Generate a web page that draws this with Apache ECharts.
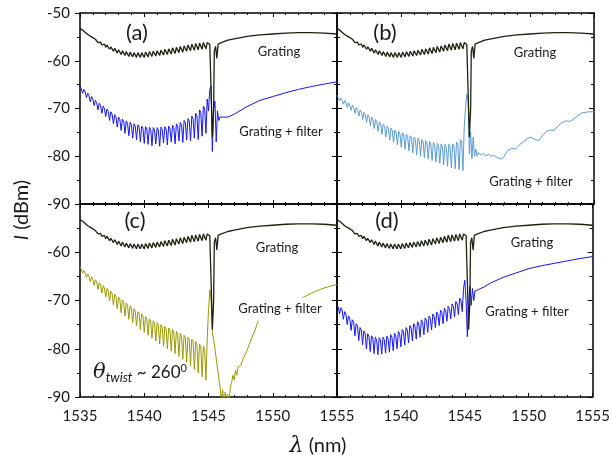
<!DOCTYPE html>
<html>
<head>
<meta charset="utf-8">
<script src="https://cdn.jsdelivr.net/npm/echarts@6/dist/echarts.min.js"></script>
<style>
  html, body { margin: 0; padding: 0; background: #fff; }
  #chart { width: 613px; height: 468px; }
</style>
</head>
<body>
<div id="chart"></div>
<script>
// x axis: wavelength (nm), y axis: intensity (dBm)
const xTicks = [1535, 1540, 1545, 1550, 1555]
const yTicks = [-90, -80, -70, -60, -50]
const panelNames = ['(a)', '(b)', '(c)', '(d)']

// grating spectrum, same in all four panels [nm, dBm]
const grating = [
  [1535.0, -53.2], [1535.3, -53.8], [1535.6, -54.5], [1535.9, -55.0],
  [1536.2, -55.5], [1536.3, -55.7], [1536.4, -56.2],
  [1536.5, -55.9], [1536.6, -56.1], [1536.7, -56.7],
  [1536.8, -56.3], [1536.9, -56.5], [1537.0, -57.2],
  [1537.1, -56.7], [1537.2, -56.9], [1537.3, -57.6],
  [1537.4, -57.1], [1537.5, -57.3], [1537.6, -58.0],
  [1537.7, -57.4], [1537.8, -57.6], [1537.9, -58.4],
  [1538.0, -57.7], [1538.1, -57.9], [1538.2, -58.7],
  [1538.3, -57.9], [1538.4, -58.1], [1538.5, -58.9],
  [1538.6, -58.1], [1538.7, -58.3], [1538.8, -59.1],
  [1538.9, -58.2], [1539.0, -58.4], [1539.1, -59.2],
  [1539.2, -58.3], [1539.3, -58.5], [1539.4, -59.3],
  [1539.5, -58.3], [1539.6, -58.5], [1539.7, -59.3],
  [1539.8, -58.3], [1539.9, -58.5], [1540.0, -59.3],
  [1540.1, -58.2], [1540.2, -58.4], [1540.3, -59.2],
  [1540.4, -58.1], [1540.5, -58.3], [1540.6, -59.1],
  [1540.7, -58.0], [1540.8, -58.2], [1540.9, -59.0],
  [1541.0, -57.9], [1541.1, -58.1], [1541.2, -58.9],
  [1541.3, -57.8], [1541.4, -58.0], [1541.5, -58.8],
  [1541.6, -57.6], [1541.7, -57.8], [1541.8, -58.7],
  [1541.9, -57.5], [1542.0, -57.7], [1542.1, -58.6],
  [1542.2, -57.3], [1542.3, -57.5], [1542.4, -58.5],
  [1542.5, -57.2], [1542.6, -57.4], [1542.7, -58.3],
  [1542.8, -57.0], [1542.9, -57.2], [1543.0, -58.2],
  [1543.1, -56.9], [1543.2, -57.1], [1543.3, -58.0],
  [1543.4, -56.7], [1543.5, -56.9], [1543.6, -57.9],
  [1543.7, -56.5], [1543.8, -56.7], [1543.9, -57.8],
  [1544.0, -56.4], [1544.1, -56.6], [1544.2, -57.7],
  [1544.3, -56.3], [1544.4, -56.5], [1544.5, -57.6],
  [1544.6, -56.2], [1544.7, -56.4], [1544.8, -57.5],
  [1544.9, -56.2], [1545.0, -56.3], [1545.1, -56.6], [1545.2, -66.0], [1545.3, -76.0],
  [1545.4, -70.0], [1545.45, -58.0], [1545.55, -57.0], [1545.65, -59.5], [1545.75, -56.5],
  [1546.0, -56.2], [1546.5, -55.7], [1547.0, -55.4], [1548.0, -54.9], [1549.0, -54.6],
  [1550.0, -54.4], [1551.0, -54.2], [1552.0, -54.1], [1553.0, -54.1], [1554.0, -54.2],
  [1555.0, -54.4]
]

// (a) grating + filter
const filterA = [
  [1535.0, -65.3], [1535.1, -65.8], [1535.2, -66.8],
  [1535.3, -66.0], [1535.4, -66.5], [1535.5, -67.7],
  [1535.6, -66.8], [1535.7, -67.3], [1535.8, -68.6],
  [1535.9, -67.5], [1536.0, -68.0], [1536.1, -69.4],
  [1536.2, -68.3], [1536.3, -68.8], [1536.4, -70.3],
  [1536.5, -68.9], [1536.6, -69.4], [1536.7, -71.0],
  [1536.8, -69.5], [1536.9, -70.0], [1537.0, -71.7],
  [1537.1, -70.1], [1537.2, -70.6], [1537.3, -72.5],
  [1537.4, -70.7], [1537.5, -71.2], [1537.6, -73.2],
  [1537.7, -71.3], [1537.8, -71.8], [1537.9, -73.9],
  [1538.0, -71.8], [1538.1, -72.3], [1538.2, -74.6],
  [1538.3, -72.2], [1538.4, -72.7], [1538.5, -75.2],
  [1538.6, -72.6], [1538.7, -73.1], [1538.8, -75.7],
  [1538.9, -72.9], [1539.0, -73.4], [1539.1, -76.2],
  [1539.2, -73.2], [1539.3, -73.7], [1539.4, -76.6],
  [1539.5, -73.4], [1539.6, -73.9], [1539.7, -77.0],
  [1539.8, -73.7], [1539.9, -74.2], [1540.0, -77.3],
  [1540.1, -73.8], [1540.2, -74.3], [1540.3, -77.5],
  [1540.4, -73.9], [1540.5, -74.4], [1540.6, -77.8],
  [1540.7, -74.0], [1540.8, -74.5], [1540.9, -77.4],
  [1541.0, -74.0], [1541.1, -74.5], [1541.2, -77.9],
  [1541.3, -73.9], [1541.4, -74.4], [1541.5, -77.2],
  [1541.6, -73.8], [1541.7, -74.3], [1541.8, -77.6],
  [1541.9, -73.7], [1542.0, -74.2], [1542.1, -77.0],
  [1542.2, -73.5], [1542.3, -74.0], [1542.4, -77.4],
  [1542.5, -73.2], [1542.6, -73.7], [1542.7, -76.8],
  [1542.8, -72.9], [1542.9, -73.4], [1543.0, -77.1],
  [1543.1, -72.5], [1543.2, -73.0], [1543.3, -76.6],
  [1543.4, -72.1], [1543.5, -72.6], [1543.6, -76.8],
  [1543.7, -71.6], [1543.8, -72.1], [1543.9, -76.2],
  [1544.0, -71.0], [1544.1, -71.5], [1544.2, -76.5],
  [1544.3, -70.3], [1544.4, -70.8], [1544.5, -75.8],
  [1544.6, -69.5], [1544.7, -70.0], [1544.8, -75.2],
  [1544.9, -68.0], [1545.0, -70.5], [1545.1, -66.0], [1545.2, -65.3],
  [1545.3, -79.0], [1545.4, -70.0], [1545.5, -68.5], [1545.6, -77.0], [1545.7, -70.5],
  [1545.8, -72.5], [1545.9, -71.8], [1546.0, -72.2], [1546.5, -71.8], [1547.0, -71.2],
  [1548.0, -69.6], [1549.0, -68.3], [1550.0, -67.5], [1551.0, -66.7], [1552.0, -66.0],
  [1553.0, -65.4], [1554.0, -64.9], [1555.0, -64.4]
]

// (b) grating + filter
const filterB = [
  [1535.0, -67.2], [1535.1, -67.7], [1535.2, -68.4],
  [1535.3, -67.8], [1535.4, -68.3], [1535.5, -69.1],
  [1535.6, -68.3], [1535.7, -68.8], [1535.8, -69.8],
  [1535.9, -68.8], [1536.0, -69.3], [1536.1, -70.4],
  [1536.2, -69.3], [1536.3, -69.8], [1536.4, -71.0],
  [1536.5, -69.8], [1536.6, -70.3], [1536.7, -71.6],
  [1536.8, -70.3], [1536.9, -70.8], [1537.0, -72.3],
  [1537.1, -70.8], [1537.2, -71.3], [1537.3, -72.9],
  [1537.4, -71.3], [1537.5, -71.8], [1537.6, -73.6],
  [1537.7, -71.8], [1537.8, -72.3], [1537.9, -74.2],
  [1538.0, -72.3], [1538.1, -72.8], [1538.2, -74.8],
  [1538.3, -72.8], [1538.4, -73.3], [1538.5, -75.4],
  [1538.6, -73.3], [1538.7, -73.8], [1538.8, -76.0],
  [1538.9, -73.7], [1539.0, -74.2], [1539.1, -76.6],
  [1539.2, -74.1], [1539.3, -74.6], [1539.4, -77.1],
  [1539.5, -74.5], [1539.6, -75.0], [1539.7, -77.6],
  [1539.8, -74.8], [1539.9, -75.3], [1540.0, -78.1],
  [1540.1, -75.1], [1540.2, -75.6], [1540.3, -78.5],
  [1540.4, -75.4], [1540.5, -75.9], [1540.6, -78.9],
  [1540.7, -75.7], [1540.8, -76.2], [1540.9, -79.3],
  [1541.0, -76.0], [1541.1, -76.5], [1541.2, -79.7],
  [1541.3, -76.2], [1541.4, -76.7], [1541.5, -80.0],
  [1541.6, -76.5], [1541.7, -77.0], [1541.8, -80.3],
  [1541.9, -76.7], [1542.0, -77.2], [1542.1, -80.6],
  [1542.2, -76.9], [1542.3, -77.4], [1542.4, -80.9],
  [1542.5, -77.1], [1542.6, -77.6], [1542.7, -81.2],
  [1542.8, -77.3], [1542.9, -77.8], [1543.0, -81.5],
  [1543.1, -77.4], [1543.2, -77.9], [1543.3, -81.8],
  [1543.4, -77.5], [1543.5, -78.0], [1543.6, -82.1],
  [1543.7, -77.5], [1543.8, -78.0], [1543.9, -82.4],
  [1544.0, -77.4], [1544.1, -77.9], [1544.2, -82.6],
  [1544.3, -77.0], [1544.4, -77.5], [1544.5, -82.8],
  [1544.6, -76.5], [1544.7, -77.0], [1544.8, -83.0],
  [1544.9, -74.0], [1545.0, -70.0], [1545.1, -67.0], [1545.2, -68.0],
  [1545.3, -79.5], [1545.4, -75.0], [1545.5, -80.5], [1545.6, -76.0], [1545.7, -80.0],
  [1545.8, -78.5], [1545.9, -80.0], [1546.0, -79.2], [1546.2, -79.8], [1546.4, -79.4],
  [1546.6, -79.9], [1546.8, -79.6], [1547.0, -80.0], [1547.2, -79.8], [1547.5, -80.3],
  [1547.8, -80.6], [1548.0, -80.0], [1548.3, -78.8], [1548.6, -78.3], [1548.9, -78.5],
  [1549.2, -77.6], [1549.5, -77.0], [1549.8, -76.3], [1550.1, -76.0], [1550.4, -76.5],
  [1550.7, -76.7], [1551.0, -75.6], [1551.3, -74.8], [1551.6, -74.5], [1551.9, -74.6],
  [1552.2, -73.6], [1552.5, -73.0], [1552.8, -72.6], [1553.1, -72.7], [1553.4, -72.3],
  [1553.7, -71.6], [1554.0, -71.0], [1554.3, -70.8], [1554.6, -70.7], [1555.0, -70.7]
]

// (c) grating + filter, twist ~260 deg
const filterC = [
  [1535.0, -63.0], [1535.1, -63.5], [1535.2, -64.3],
  [1535.3, -63.8], [1535.4, -64.3], [1535.5, -65.2],
  [1535.6, -64.5], [1535.7, -65.0], [1535.8, -66.1],
  [1535.9, -65.1], [1536.0, -65.6], [1536.1, -66.9],
  [1536.2, -65.7], [1536.3, -66.2], [1536.4, -67.7],
  [1536.5, -66.3], [1536.6, -66.8], [1536.7, -68.5],
  [1536.8, -66.9], [1536.9, -67.4], [1537.0, -69.3],
  [1537.1, -67.5], [1537.2, -68.0], [1537.3, -70.1],
  [1537.4, -68.1], [1537.5, -68.6], [1537.6, -70.9],
  [1537.7, -68.7], [1537.8, -69.2], [1537.9, -71.7],
  [1538.0, -69.3], [1538.1, -69.8], [1538.2, -72.5],
  [1538.3, -69.9], [1538.4, -70.4], [1538.5, -73.2],
  [1538.6, -70.5], [1538.7, -71.0], [1538.8, -73.9],
  [1538.9, -71.1], [1539.0, -71.6], [1539.1, -74.6],
  [1539.2, -71.7], [1539.3, -72.2], [1539.4, -75.3],
  [1539.5, -72.3], [1539.6, -72.8], [1539.7, -76.0],
  [1539.8, -72.8], [1539.9, -73.3], [1540.0, -76.6],
  [1540.1, -73.3], [1540.2, -73.8], [1540.3, -77.2],
  [1540.4, -73.8], [1540.5, -74.3], [1540.6, -77.8],
  [1540.7, -74.2], [1540.8, -74.7], [1540.9, -78.4],
  [1541.0, -74.6], [1541.1, -75.1], [1541.2, -79.0],
  [1541.3, -75.0], [1541.4, -75.5], [1541.5, -79.5],
  [1541.6, -75.4], [1541.7, -75.9], [1541.8, -80.0],
  [1541.9, -75.7], [1542.0, -76.2], [1542.1, -80.5],
  [1542.2, -76.0], [1542.3, -76.5], [1542.4, -81.0],
  [1542.5, -76.4], [1542.6, -76.9], [1542.7, -81.6],
  [1542.8, -76.8], [1542.9, -77.3], [1543.0, -82.2],
  [1543.1, -77.2], [1543.2, -77.7], [1543.3, -82.8],
  [1543.4, -77.6], [1543.5, -78.1], [1543.6, -83.5],
  [1543.7, -78.0], [1543.8, -78.5], [1543.9, -84.3],
  [1544.0, -78.5], [1544.1, -79.0], [1544.2, -85.0],
  [1544.3, -79.0], [1544.4, -79.5], [1544.5, -85.8],
  [1544.6, -79.5], [1544.7, -80.0], [1544.8, -86.5],
  [1544.9, -78.0], [1545.0, -72.0], [1545.1, -67.8], [1545.2, -70.0],
  [1545.3, -76.5], [1545.45, -79.0], [1545.6, -82.0], [1545.75, -85.0], [1545.9, -88.0],
  [1546.0, -90.5], [1546.1, -88.5], [1546.2, -91.0], [1546.3, -89.0], [1546.4, -91.0],
  [1546.5, -89.5], [1546.6, -91.0], [1546.7, -88.0], [1546.8, -87.0], [1546.9, -85.5],
  [1547.0, -86.5], [1547.1, -84.5], [1547.2, -85.5], [1547.3, -83.8], [1547.5, -83.5],
  [1547.7, -82.0], [1548.0, -80.3], [1548.3, -78.2], [1548.6, -76.3], [1548.9, -74.0],
  [1551.9, -69.9], [1552.5, -69.2], [1553.0, -68.5], [1553.5, -67.9], [1554.0, -67.4],
  [1554.5, -67.0], [1555.0, -66.7]
]

// (d) grating + filter
const filterD = [
  [1535.0, -70.9], [1535.1, -71.4], [1535.2, -72.8],
  [1535.3, -71.5], [1535.4, -72.0], [1535.5, -73.9],
  [1535.6, -72.3], [1535.7, -72.8], [1535.8, -75.0],
  [1535.9, -73.2], [1536.0, -73.7], [1536.1, -76.2],
  [1536.2, -74.0], [1536.3, -74.5], [1536.4, -77.3],
  [1536.5, -74.8], [1536.6, -75.3], [1536.7, -78.3],
  [1536.8, -75.6], [1536.9, -76.1], [1537.0, -79.2],
  [1537.1, -76.3], [1537.2, -76.8], [1537.3, -80.0],
  [1537.4, -76.9], [1537.5, -77.4], [1537.6, -80.6],
  [1537.7, -77.3], [1537.8, -77.8], [1537.9, -81.0],
  [1538.0, -77.6], [1538.1, -78.1], [1538.2, -81.2],
  [1538.3, -77.7], [1538.4, -78.2], [1538.5, -81.1],
  [1538.6, -77.6], [1538.7, -78.1], [1538.8, -80.9],
  [1538.9, -77.4], [1539.0, -77.9], [1539.1, -80.7],
  [1539.2, -77.1], [1539.3, -77.6], [1539.4, -80.4],
  [1539.5, -76.8], [1539.6, -77.3], [1539.7, -80.0],
  [1539.8, -76.4], [1539.9, -76.9], [1540.0, -79.6],
  [1540.1, -76.0], [1540.2, -76.5], [1540.3, -79.2],
  [1540.4, -75.6], [1540.5, -76.1], [1540.6, -78.8],
  [1540.7, -75.2], [1540.8, -75.7], [1540.9, -78.4],
  [1541.0, -74.8], [1541.1, -75.3], [1541.2, -78.0],
  [1541.3, -74.4], [1541.4, -74.9], [1541.5, -77.6],
  [1541.6, -74.0], [1541.7, -74.5], [1541.8, -77.1],
  [1541.9, -73.6], [1542.0, -74.1], [1542.1, -76.6],
  [1542.2, -73.2], [1542.3, -73.7], [1542.4, -76.1],
  [1542.5, -72.8], [1542.6, -73.3], [1542.7, -75.6],
  [1542.8, -72.4], [1542.9, -72.9], [1543.0, -75.2],
  [1543.1, -72.0], [1543.2, -72.5], [1543.3, -74.8],
  [1543.4, -71.6], [1543.5, -72.1], [1543.6, -74.3],
  [1543.7, -71.2], [1543.8, -71.7], [1543.9, -73.8],
  [1544.0, -70.7], [1544.1, -71.2], [1544.2, -73.4],
  [1544.3, -70.2], [1544.4, -70.7], [1544.5, -72.9],
  [1544.6, -69.5], [1544.7, -70.0], [1544.8, -72.3],
  [1544.9, -67.5], [1545.0, -65.8], [1545.1, -70.0], [1545.2, -77.5],
  [1545.3, -71.0], [1545.4, -67.0], [1545.5, -71.0], [1545.6, -67.5], [1545.7, -70.0],
  [1545.8, -68.0], [1546.0, -67.8], [1546.5, -67.2], [1547.0, -66.4], [1548.0, -65.2],
  [1549.0, -64.3], [1550.0, -63.4], [1551.0, -62.8], [1552.0, -62.3], [1553.0, -61.8],
  [1554.0, -61.3], [1555.0, -60.9]
]

const filters = [filterA, filterB, filterC, filterD]
const filterColors = ['#1414ff', '#5b9bd5', '#9c9a00', '#1414ff']

const grids = [
  { left: 80, top: 13, width: 257, height: 191 },
  { left: 337, top: 13, width: 257, height: 191 },
  { left: 80, top: 204, width: 257, height: 193 },
  { left: 337, top: 204, width: 257, height: 193 }
]

const font = 'Lato, "Open Sans", sans-serif'
const chart = echarts.init(document.getElementById('chart'))

const xAxis = []
const yAxis = []
const series = []
grids.forEach((g, i) => {
  const isBottom = i >= 2
  const isLeft = i % 2 === 0
  // bottom x axis
  xAxis.push({
    type: 'value', gridIndex: i, position: 'bottom',
    min: xTicks[0], max: xTicks[xTicks.length - 1], interval: 5,
    axisLine: { onZero: false, lineStyle: { color: '#000', width: 1.5 } },
    axisTick: { inside: true, length: 4, lineStyle: { color: '#000' } },
    minorTick: { show: true, splitNumber: 5, length: 2, lineStyle: { color: '#000' } },
    splitLine: { show: false },
    axisLabel: {
      show: isBottom, showMinLabel: isLeft, margin: 12,
      fontSize: 15, color: '#1a1a1a', fontFamily: font,
      formatter: v => String(v)
    }
  })
  // top x axis, ticks only
  xAxis.push({
    type: 'value', gridIndex: i, position: 'top',
    min: xTicks[0], max: xTicks[xTicks.length - 1], interval: 5,
    axisLine: { onZero: false, lineStyle: { color: '#000', width: 1.5 } },
    axisTick: { inside: true, length: 4, lineStyle: { color: '#000' } },
    minorTick: { show: true, splitNumber: 5, length: 2, lineStyle: { color: '#000' } },
    splitLine: { show: false },
    axisLabel: { show: false }
  })
  yAxis.push({
    type: 'value', gridIndex: i, position: 'left',
    min: yTicks[0], max: yTicks[yTicks.length - 1], interval: 10,
    axisLine: { onZero: false, lineStyle: { color: '#000', width: 1.5 } },
    axisTick: { inside: !isLeft, length: 5, lineStyle: { color: '#000' } },
    minorTick: { show: true, splitNumber: 2, length: 3, lineStyle: { color: '#000' } },
    splitLine: { show: false },
    axisLabel: {
      show: isLeft, showMaxLabel: !isBottom, margin: 10,
      fontSize: 15, color: '#1a1a1a', fontFamily: font
    }
  })
  yAxis.push({
    type: 'value', gridIndex: i, position: 'right',
    min: yTicks[0], max: yTicks[yTicks.length - 1], interval: 10,
    axisLine: { onZero: false, lineStyle: { color: '#000', width: 1.5 } },
    axisTick: { inside: true, length: 5, lineStyle: { color: '#000' } },
    minorTick: { show: true, splitNumber: 2, length: 3, lineStyle: { color: '#000' } },
    splitLine: { show: false },
    axisLabel: { show: false }
  })
  series.push({
    type: 'line', xAxisIndex: i * 2, yAxisIndex: i * 2,
    data: filters[i], showSymbol: false, animation: false,
    lineStyle: { color: filterColors[i], width: 1 }
  })
  series.push({
    type: 'line', xAxisIndex: i * 2, yAxisIndex: i * 2,
    data: grating, showSymbol: false, animation: false,
    lineStyle: { color: '#1c2410', width: 1.3 }
  })
})

// text placed on the panels
function label(text, x, y, size, bg) {
  return {
    type: 'text', x: x, y: y, z: 100,
    style: {
      text: text, fontSize: size, fontFamily: font, fill: '#1a1a1a',
      align: 'center', verticalAlign: 'middle',
      backgroundColor: bg ? '#fff' : null, padding: bg ? [3, 4, 7, 4] : 0
    }
  }
}

const graphic = [
  label(panelNames[0], 137, 33, 22),
  label(panelNames[1], 385, 33, 22),
  label(panelNames[2], 135, 221, 22),
  label(panelNames[3], 387, 221, 22),
  label('Grating', 279, 52, 13),
  label('Grating + filter', 281, 132, 13),
  label('Grating', 535, 53, 13),
  label('Grating + filter', 531, 182, 13),
  label('Grating', 277, 248, 13),
  label('Grating + filter', 280, 309, 13, true),
  label('Grating', 532, 243, 13),
  label('Grating + filter', 527, 312, 13),
  {
    type: 'text', x: 93, y: 373, z: 100,
    style: {
      text: '{t|θ}{s|twist}{n| ~ 260}{p|0}',
      verticalAlign: 'middle', fill: '#1a1a1a',
      rich: {
        t: { fontSize: 21, fontStyle: 'italic', fontFamily: '"DejaVu Serif", serif' },
        s: { fontSize: 13, fontStyle: 'italic', fontFamily: font, padding: [10, 0, 0, 0] },
        n: { fontSize: 17, fontFamily: font },
        p: { fontSize: 11, fontFamily: font, padding: [0, 0, 10, 0] }
      }
    }
  },
  {
    type: 'text', x: 318, y: 446, z: 100,
    style: {
      text: '{l|λ}{n| (nm)}', align: 'center', verticalAlign: 'middle', fill: '#1a1a1a',
      rich: {
        l: { fontSize: 22, fontStyle: 'italic', fontFamily: '"DejaVu Serif", serif' },
        n: { fontSize: 20, fontFamily: font }
      }
    }
  },
  {
    type: 'text', x: 22, y: 210, z: 100, rotation: Math.PI / 2,
    style: {
      text: '{i|I}{n| (dBm)}', align: 'center', verticalAlign: 'middle', fill: '#1a1a1a',
      rich: {
        i: { fontSize: 20, fontStyle: 'italic', fontFamily: font },
        n: { fontSize: 20, fontFamily: font }
      }
    }
  }
]

chart.setOption({
  animation: false,
  backgroundColor: '#fff',
  grid: grids,
  xAxis: xAxis,
  yAxis: yAxis,
  series: series,
  graphic: graphic
})
</script>
</body>
</html>
